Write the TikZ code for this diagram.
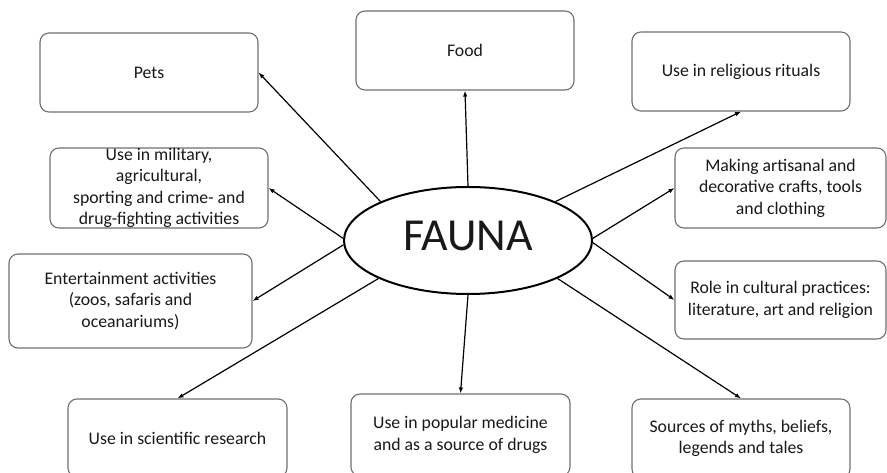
\documentclass[tikz,border=0pt]{standalone}
\usepackage{fontspec}
\setmainfont{Carlito}
\usetikzlibrary{shapes.geometric,arrows.meta}
\definecolor{boxgray}{RGB}{112,112,112}
\definecolor{ink}{RGB}{25,25,25}
\begin{document}
\begin{tikzpicture}[x=1bp,y=-1bp,
  box/.style={draw=boxgray, line width=1.1bp, rounded corners=9bp, align=center,
    inner sep=0pt, text=ink, font=\fontsize{17.8}{21.6}\selectfont},
  boxtext/.style={align=center, text=ink, font=\fontsize{17.8}{21.6}\selectfont},
  link/.style={line width=1.2bp, -{Latex[length=6bp,width=4.5bp]}}]
\fill[white] (0,0) rectangle (887,473);
\useasboundingbox (0,0) rectangle (887,473);
\clip (0,0) rectangle (887,473);

% centre
\node[ellipse, draw, line width=2bp, minimum width=248bp, minimum height=107bp,
  inner sep=0pt, text depth=10bp, text=ink, font=\fontsize{46}{50}\selectfont]
  (fauna) at (468,240.5) {FAUNA};

% uses of fauna
\node[box, minimum width=218bp, minimum height=79bp] (pets) at (149,72.5) {Pets};
\node[box, minimum width=218bp, minimum height=79bp] (food) at (465,50.5) {Food};
\node[box, minimum width=218bp, minimum height=79bp] (rel) at (741,71.5) {Use in religious rituals};
\node[box, minimum width=218bp, minimum height=80bp,
  label={[boxtext]center:{Use in military,\\agricultural,\\sporting and crime- and\\drug-fighting activities}}]
  (mil) at (159,188) {};
\node[box, minimum width=211bp, minimum height=80bp] (craft) at (780.5,188)
  {Making artisanal and\\decorative crafts, tools\\and clothing};
\node[box, minimum width=243bp, minimum height=94bp] (ent) at (130.5,301)
  {Entertainment activities\\(zoos, safaris and\\oceanariums)};
\node[box, minimum width=211bp, minimum height=78bp] (role) at (780.5,300)
  {Role in cultural practices:\\literature, art and religion};
\node[box, minimum width=219bp, minimum height=78bp] (sci) at (177.5,438)
  {Use in scientific research};
\node[box, minimum width=219bp, minimum height=82bp] (med) at (460.5,435)
  {Use in popular medicine\\and as a source of drugs};
\node[box, minimum width=218bp, minimum height=79bp] (myth) at (741,438.5)
  {Sources of myths, beliefs,\\legends and tales};

% connectors
\draw[link] (fauna.156) -- (pets.east);
\draw[link] (fauna.90) -- (food.south);
\draw[link] (fauna.24) -- (rel.south);
\draw[link] (fauna.179) -- (mil.east);
\draw[link] (fauna.1) -- (craft.west);
\draw[link] (fauna.182) -- (ent.east);
\draw[link] (fauna.359) -- (role.west);
\draw[link] (fauna.203) -- (sci.north);
\draw[link] (fauna.270) -- (med.north);
\draw[link] (fauna.337) -- (myth.north);
\end{tikzpicture}
\end{document}
